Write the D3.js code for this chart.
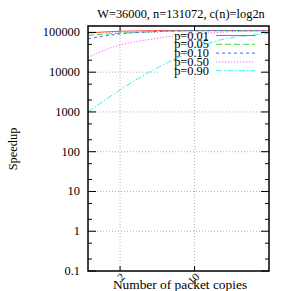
<!DOCTYPE html>
<html>
<head>
<meta charset="utf-8">
<script src="https://cdn.jsdelivr.net/npm/d3@7"></script>
<style>
  body { margin: 0; background: #fff; }
  text { font-family: 'Liberation Serif', 'DejaVu Serif', serif; fill: #000; }
</style>
</head>
<body>
<div id="root"></div>
<script>
const copies = [1, 2, 3, 4, 5, 6, 8, 10, 15, 20, 30, 40, 50];
const p001 = [97000, 107000, 109500, 110500, 111000, 111000, 111000, 111000, 111000, 111000, 111000, 111000, 111000];
const p005 = [85000, 95500, 101000, 104000, 106000, 107500, 109000, 110000, 110500, 111000, 111000, 111000, 111000];
const p010 = [68700, 92000, 100000, 104000, 107000, 108500, 110000, 110500, 111000, 111000, 111000, 111000, 111000];
const p050 = [23800, 48500, 60500, 68000, 75000, 80000, 87000, 91700, 98000, 103000, 107000, 109000, 110000];
const p090 = [1000, 3590, 7070, 11000, 15000, 19200, 27200, 39000, 57700, 70700, 81700, 89000, 94000];

const seriesNames = ['p=0.01', 'p=0.05', 'p=0.10', 'p=0.50', 'p=0.90'];
const seriesVals = [p001, p005, p010, p050, p090];
const yTickVals = [0.1, 1, 10, 100, 1000, 10000, 100000];
const yTickLabels = ['0.1', '1', '10', '100', '1000', '10000', '100000'];
const xTickVals = [2, 10];

const colors = ['#ff4a4a', '#3ee03e', '#5a5aff', '#ff5cff', '#3cf0f0'];
const dashes = [null, '6,3', '3,3', '1.2,1.8', '6,2,1.5,2'];

const width = 291, height = 291;
const pLeft = 88, pRight = 269, pTop = 26, pBottom = 271;
const fs = 12.4;

const svg = d3.select('#root').append('svg')
              .attr('width', width)
              .attr('height', height);

const x = d3.scaleLog().domain([1, 50]).range([pLeft, pRight]);
const y = d3.scaleLog().domain([0.1, 145000]).range([pBottom, pTop]);

// grid
const grid = svg.append('g')
                .attr('stroke', '#a0a0a0')
                .attr('stroke-width', 0.8)
                .attr('stroke-dasharray', '1,2');
grid.selectAll('.gy').data(yTickVals.slice(1)).enter()
    .append('line')
    .attr('x1', pLeft).attr('x2', pRight)
    .attr('y1', d => y(d)).attr('y2', d => y(d));
grid.selectAll('.gx').data(xTickVals).enter()
    .append('line')
    .attr('y1', pTop).attr('y2', pBottom)
    .attr('x1', d => x(d)).attr('x2', d => x(d));

// legend background hides the grid
svg.append('rect')
   .attr('x', 160).attr('y', 27)
   .attr('width', 103).attr('height', 49)
   .attr('fill', '#fff');

// curves
const line = d3.line()
               .x((d, i) => x(copies[i]))
               .y(d => y(d))
               .curve(d3.curveMonotoneX);
svg.selectAll('.curve').data(seriesVals).enter()
   .append('path')
   .attr('d', d => line(d))
   .attr('fill', 'none')
   .attr('stroke', (d, i) => colors[i])
   .attr('stroke-width', 1)
   .attr('stroke-dasharray', (d, i) => dashes[i]);

// frame
svg.append('rect')
   .attr('x', pLeft).attr('y', pTop)
   .attr('width', pRight - pLeft).attr('height', pBottom - pTop)
   .attr('fill', 'none')
   .attr('stroke', '#000')
   .attr('stroke-width', 1.5);

// y ticks, majors and 2/5 minors, mirrored on the right
const minors = [];
yTickVals.forEach(v => { if (v < 100000) minors.push(v * 2, v * 5); });
const ticks = svg.append('g').attr('stroke', '#000').attr('stroke-width', 1);
[[yTickVals, 8], [minors, 4]].forEach(([vals, len]) => {
  ticks.selectAll(null).data(vals).enter().append('line')
       .attr('x1', pLeft).attr('x2', pLeft + len)
       .attr('y1', d => y(d)).attr('y2', d => y(d));
  ticks.selectAll(null).data(vals).enter().append('line')
       .attr('x1', pRight).attr('x2', pRight - len)
       .attr('y1', d => y(d)).attr('y2', d => y(d));
});
ticks.selectAll(null).data(xTickVals).enter().append('line')
     .attr('x1', d => x(d)).attr('x2', d => x(d))
     .attr('y1', pBottom).attr('y2', pBottom - 5);
ticks.selectAll(null).data(xTickVals).enter().append('line')
     .attr('x1', d => x(d)).attr('x2', d => x(d))
     .attr('y1', pTop).attr('y2', pTop + 5);

// tick labels
svg.selectAll('.ylab').data(yTickVals).enter()
   .append('text')
   .attr('x', 80)
   .attr('y', d => y(d) + 4)
   .attr('text-anchor', 'end')
   .style('font-size', fs + 'px')
   .text((d, i) => yTickLabels[i]);
svg.selectAll('.xlab').data(xTickVals).enter()
   .append('text')
   .attr('transform', d => `translate(${x(d) + 5.5},${pBottom + 6.5}) rotate(-45)`)
   .attr('text-anchor', 'end')
   .style('font-size', '11px')
   .text(d => d);

// titles
svg.append('text')
   .attr('x', 181).attr('y', 18)
   .attr('text-anchor', 'middle')
   .style('font-size', fs + 'px')
   .text('W=36000, n=131072, c(n)=log2n');
svg.append('text')
   .attr('x', 180).attr('y', 289)
   .attr('text-anchor', 'middle')
   .style('font-size', '13.4px')
   .text('Number of packet copies');
svg.append('text')
   .attr('transform', 'translate(17,149) rotate(-90)')
   .attr('text-anchor', 'middle')
   .style('font-size', fs + 'px')
   .text('Speedup');

// legend
const legend = svg.append('g').attr('id', 'legend');
const rows = legend.selectAll('g').data(seriesNames).enter()
                   .append('g')
                   .attr('transform', (d, i) => `translate(0,${35.5 + i * 8.8})`);
rows.append('text')
    .attr('x', 209).attr('y', 4)
    .attr('text-anchor', 'end')
    .style('font-size', fs + 'px')
    .text(d => d);
rows.append('line')
    .attr('x1', 216).attr('x2', 255)
    .attr('stroke', (d, i) => colors[i])
    .attr('stroke-width', 1)
    .attr('stroke-dasharray', (d, i) => dashes[i]);
</script>
</body>
</html>
